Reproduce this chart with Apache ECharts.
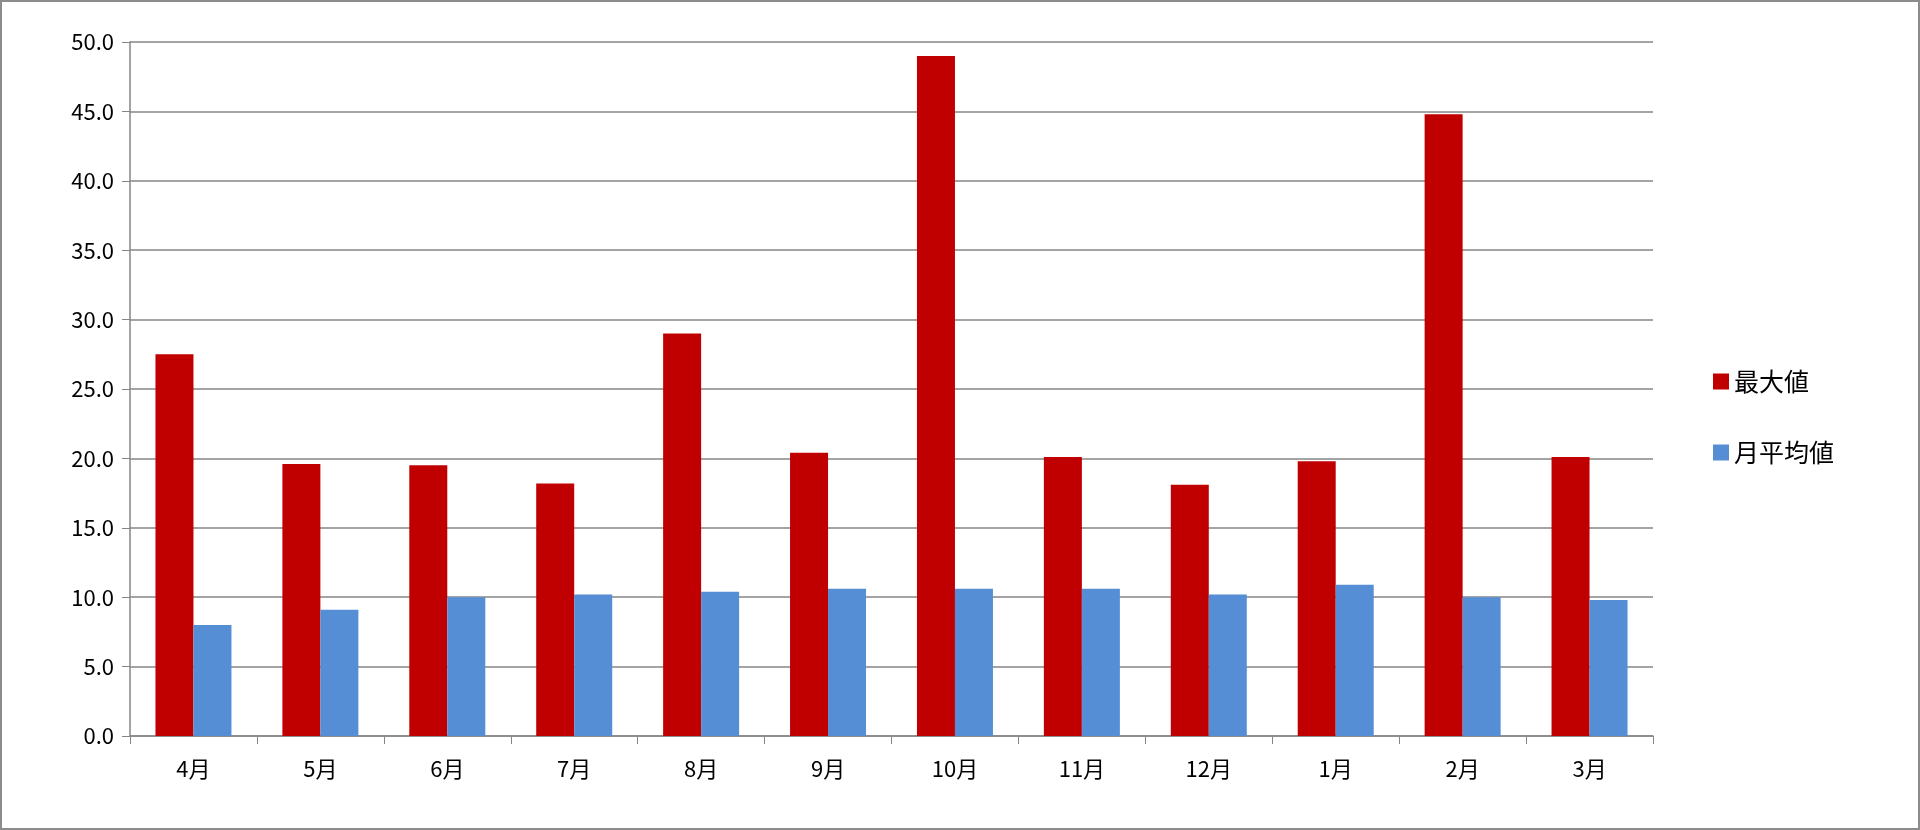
<!DOCTYPE html>
<html><head><meta charset="utf-8">
<script src="https://cdn.jsdelivr.net/npm/echarts@6/dist/echarts.min.js"></script>
<style>html,body{margin:0;padding:0;background:#fff}#c{width:1920px;height:830px;box-sizing:border-box;border:2px solid #8c8c8c}</style>
</head><body><div id="c"></div>
<script>
const categories = ['4月','5月','6月','7月','8月','9月','10月','11月','12月','1月','2月','3月'];
const maxValues = [27.5,19.6,19.5,18.2,29.0,20.4,49.0,20.1,18.1,19.8,44.8,20.1];
const avgValues = [8.0,9.1,10.0,10.2,10.4,10.6,10.6,10.6,10.2,10.9,10.0,9.8];
const seriesNames = ['最大値','月平均値'];
const font = '"Noto Sans CJK JP", "Noto Sans", sans-serif';
const chart = echarts.init(document.getElementById('c'));
chart.setOption({
  animation:false,
  textStyle:{fontFamily:font},
  grid:{left:128,right:265,top:40,bottom:92,containLabel:false},
  legend:{orient:'vertical',left:1706,top:362,itemWidth:16,itemHeight:16,itemGap:46,icon:'rect',
    textStyle:{fontSize:25,color:'#000',fontFamily:font}},
  xAxis:{type:'category',data:categories,
    axisLine:{lineStyle:{color:'#868686',width:1.5}},
    axisTick:{show:true,length:8,lineStyle:{color:'#868686'}},
    axisLabel:{fontSize:22,color:'#000',margin:22,fontFamily:font}},
  yAxis:{type:'value',min:0,max:50,interval:5,
    axisLine:{show:true,lineStyle:{color:'#868686',width:1.5}},
    axisTick:{show:true,length:8,inside:false,lineStyle:{color:'#868686'}},
    splitLine:{lineStyle:{color:'#868686',width:1.5}},
    axisLabel:{fontSize:22,color:'#000',margin:16,formatter:v=>v.toFixed(1),fontFamily:font}},
  series:[
    {name:seriesNames[0],type:'bar',data:maxValues,barWidth:38,barGap:'0%',itemStyle:{color:'#C00000'}},
    {name:seriesNames[1],type:'bar',data:avgValues,barWidth:38,itemStyle:{color:'#558ED5'}}
  ]
});
</script></body></html>
